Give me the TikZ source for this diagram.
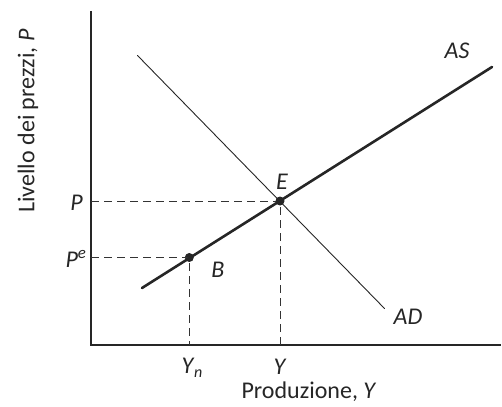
\documentclass[tikz,border=0pt]{standalone}
\usepackage{fontspec}
\setmainfont{Carlito}
\usetikzlibrary{positioning,calc}

\begin{document}
\begin{tikzpicture}[x=1pt,y=-1pt,
    every node/.style={font=\fontsize{24}{28}\selectfont, text=black!85},
    axis/.style={line width=1.4pt, draw=black!85},
    guide/.style={dash pattern=on 8pt off 5pt, line width=0.9pt, draw=black!80},
    curve/.style={draw=black!85, line cap=round},
    dot/.style={circle, fill=black!85, inner sep=0pt, minimum size=9pt}]
    \useasboundingbox (0,0) rectangle (502,406);

    % axes
    \coordinate (O) at (91,345);
    \coordinate (top) at (91,11);
    \coordinate (right) at (501,345);
    \draw[axis] (top) -- (O) -- (right);
    \node[rotate=90] (ylab) at (28,121) {Livello dei prezzi, \textit{P}};
    \node[anchor=base, inner sep=0pt] (xlab) at (309,398) {Produzione, \textit{Y}};

    % equilibrium points
    \node[dot] (E) at (280,201) {};
    \node[dot] (B) at (189.3,257.5) {};

    % dashed guides
    \draw[guide] (E.center -| O) -- (E.center) -- (E.center |- O);
    \draw[guide] (B.center -| O) -- (B.center) -- (B.center |- O);

    % AS and AD curves
    \coordinate (as1) at (142,288);
    \coordinate (as2) at (492,67);
    \coordinate (ad1) at (137.5,55.5);
    \coordinate (ad2) at (384.5,308.5);
    \draw[curve, line width=2.6pt] (as1) -- (as2);
    \draw[curve, line width=0.9pt] (ad1) -- (ad2);
    \node (aslab) at (457,51) {\textit{AS}};
    \node (adlab) at (408,317) {\textit{AD}};

    % labels
    \node (elab) at (282,182) {\textit{E}};
    \node (blab) at (218,270) {\textit{B}};
    \node (plab) at (76.5,203) {\textit{P}};
    \node (pelab) at (76,259) {\textit{P}\textsuperscript{\textit{e}}};
    \node (ynlab) at (192,368) {\textit{Y}\kern-0.5pt\raisebox{-0.15em}{\fontsize{16}{18}\selectfont\textit{n}}};
    \node (ylab2) at (280,367) {\textit{Y}};
\end{tikzpicture}
\end{document}
